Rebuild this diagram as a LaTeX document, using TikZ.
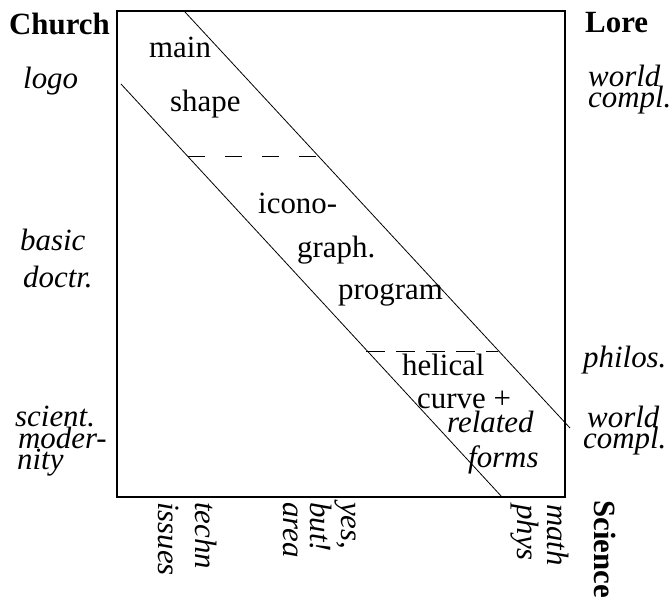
\documentclass[tikz,border=0pt]{standalone}
\usepackage{fontspec}
\setmainfont{Liberation Serif}
\begin{document}
\begin{tikzpicture}[x=1bp,y=-1bp,
  lbl/.style={inner sep=0pt,anchor=base west,font=\fontsize{31}{36}\selectfont},
  ilbl/.style={lbl,font=\fontsize{31}{36}\selectfont\itshape},
  blbl/.style={lbl,font=\fontsize{31}{36}\selectfont\bfseries},
  vlbl/.style={ilbl,rotate=-90},
  frame/.style={line width=1.6bp},
  band/.style={line width=0.8bp},
  splitA/.style={line width=1bp,dash pattern=on 17bp off 20bp},
  splitB/.style={line width=1bp,dash pattern=on 19bp off 11bp}]
\useasboundingbox (0,0) rectangle (672,601);
% frame
\draw[frame] (117,11) rectangle (565,497);
% band
\coordinate (uA) at (185,12);
\coordinate (uB) at (570,428);
\coordinate (lA) at (121,84);
\coordinate (lB) at (502,497);
\draw[band] (uA) -- (uB);
\draw[band] (lA) -- (lB);
\coordinate (d1a) at (188,157);
\coordinate (d1b) at (318,157);
\coordinate (d2a) at (366,351);
\coordinate (d2b) at (498,351);
\draw[splitA] (d1a) -- (d1b);
\draw[splitB] (d2a) -- (d2b);
% corner headings
\node[blbl] (church) at (9,35) {Church};
\node[blbl] (lore) at (585,33) {Lore};
% left side
\node[ilbl] (logo) at (23,89) {logo};
\node[ilbl] (basic) at (20,250) {basic};
\node[ilbl] (doctr) at (23,287) {doctr.};
\node[ilbl] (scient) at (15,426) {scient.};
\node[ilbl] (moder) at (18,448) {moder-};
\node[ilbl] (nity) at (17,469) {nity};
% right side
\node[ilbl] (worldA) at (588,87) {world};
\node[ilbl] (complA) at (588,108) {compl.};
\node[ilbl] (philos) at (583,367) {philos.};
\node[ilbl] (worldB) at (587,427) {world};
\node[ilbl] (complB) at (583,448) {compl.};
% inside the band
\node[lbl] (main) at (149,58) {main};
\node[lbl] (shape) at (170,112) {shape};
\node[lbl] (icono) at (258,213) {icono-};
\node[lbl] (graph) at (297,257) {graph.};
\node[lbl] (program) at (338,299) {program};
\node[lbl] (helical) at (402,375) {helical};
\node[lbl] (curve) at (417,408) {curve +};
\node[ilbl] (related) at (447,432) {related};
\node[ilbl] (forms) at (468,467) {forms};
% bottom, rotated
\node[vlbl] (issues) at (158,502) {issues};
\node[vlbl] (techn) at (195,502) {techn};
\node[vlbl] (area) at (283,502) {area};
\node[vlbl] (but) at (310,502) {but!};
\node[vlbl] (yes) at (341,502) {yes,};
\node[vlbl] (phys) at (517,504) {phys};
\node[vlbl] (math) at (547,504) {math};
\node[blbl,rotate=-90] (science) at (594,500) {Science};
\end{tikzpicture}
\end{document}
